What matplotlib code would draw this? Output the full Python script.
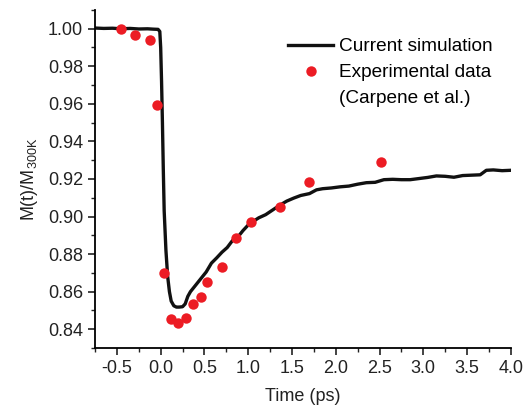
import matplotlib.pyplot as plt
from matplotlib.lines import Line2D
from matplotlib.ticker import MultipleLocator

plt.rcParams['font.family'] = ['Liberation Sans', 'DejaVu Sans']

# Simulation curve
t_sim = [-0.75, -0.65, -0.55, -0.45, -0.35, -0.25, -0.15, -0.08, -0.03, -0.01,
         0.0, 0.01, 0.02, 0.03, 0.04, 0.06, 0.08, 0.10, 0.12, 0.15, 0.18, 0.21,
         0.25, 0.28, 0.31, 0.34, 0.40, 0.46, 0.52, 0.58, 0.64, 0.70, 0.76, 0.82,
         0.88, 0.94, 1.00, 1.06, 1.12, 1.20, 1.28, 1.36, 1.44, 1.52, 1.60, 1.70,
         1.78, 1.85, 1.95, 2.05, 2.15, 2.25, 2.35, 2.45, 2.55, 2.65, 2.75, 2.85,
         2.95, 3.05, 3.15, 3.25, 3.35, 3.45, 3.55, 3.65, 3.72, 3.80, 3.90, 4.0]
m_sim = [1.0003, 1.0001, 1.0002, 0.9999, 1.0001, 0.9998, 0.9999, 0.9997, 0.9996, 0.9985,
         0.990, 0.972, 0.950, 0.925, 0.903, 0.882, 0.868, 0.860, 0.855, 0.8525, 0.8518, 0.8518,
         0.852, 0.8535, 0.8575, 0.860, 0.8635, 0.867, 0.8705, 0.8752, 0.878, 0.881, 0.8835, 0.8872,
         0.889, 0.8925, 0.8955, 0.8975, 0.8993, 0.901, 0.9035, 0.906, 0.9082, 0.9098, 0.9112, 0.9122,
         0.9142, 0.9148, 0.9152, 0.9158, 0.9162, 0.9172, 0.918, 0.9182, 0.9196, 0.9198, 0.9196, 0.9196,
         0.9202, 0.9208, 0.9216, 0.9214, 0.9209, 0.9218, 0.922, 0.9222, 0.9246, 0.9248, 0.9244, 0.9246]

# Experimental data (Carpene et al.)
t_exp = [-0.455, -0.29, -0.125, -0.04, 0.034, 0.12, 0.20, 0.284, 0.367, 0.466,
         0.526, 0.70, 0.864, 1.03, 1.36, 1.69, 2.52]
m_exp = [1.000, 0.9966, 0.9941, 0.9595, 0.8702, 0.8453, 0.8432, 0.8462, 0.8537, 0.8571,
         0.8654, 0.873, 0.8887, 0.8972, 0.9049, 0.9186, 0.9289]

red = '#ec1c24'

fig = plt.figure(figsize=(5.25, 4.09), dpi=100)
ax = fig.add_axes([0.181, 0.149, 0.792, 0.827])

ax.plot(t_sim, m_sim, color='#111111', lw=2.4, zorder=2)
ax.plot(t_exp, m_exp, 'o', color=red, ms=7.5, mec='none', zorder=3)

ax.set_xlim(-0.75, 4.0)
ax.set_ylim(0.83, 1.01)
ax.xaxis.set_major_locator(MultipleLocator(0.5))
ax.xaxis.set_minor_locator(MultipleLocator(0.25))
ax.yaxis.set_major_locator(MultipleLocator(0.02))
ax.yaxis.set_minor_locator(MultipleLocator(0.01))
ax.xaxis.set_major_formatter(plt.FuncFormatter(lambda v, p: f"{v:.1f}"))
ax.yaxis.set_major_formatter(plt.FuncFormatter(lambda v, p: f"{v:.2f}"))

for s in ['top', 'right']:
    ax.spines[s].set_visible(False)
for s in ['left', 'bottom']:
    ax.spines[s].set_linewidth(1.3)
ax.tick_params(which='major', direction='out', length=5, width=1.2, labelsize=13, colors='#222222')
ax.tick_params(which='minor', direction='out', length=3, width=1.0, colors='#222222')

ax.set_xlabel('Time (ps)', fontsize=13, color='#222222', labelpad=8)
ax.set_ylabel(r'M(t)/M$_{\mathregular{300K}}$', fontsize=13, color='#222222', labelpad=6)

handles = [Line2D([], [], color='#111111', lw=2.4),
           Line2D([], [], marker='o', ls='none', color=red, ms=7.5, mec='none'),
           Line2D([], [], ls='none')]
labels = ['Current simulation', 'Experimental data', '(Carpene et al.)']
ax.legend(handles, labels, loc='upper left', bbox_to_anchor=(288 / 525, 1 - 38 / 409),
          bbox_transform=fig.transFigure, frameon=False,
          fontsize=13.7, handlelength=2.37, handletextpad=0.3, labelspacing=0.46,
          borderpad=0, borderaxespad=0)

fig.savefig('out.png', dpi=100)
